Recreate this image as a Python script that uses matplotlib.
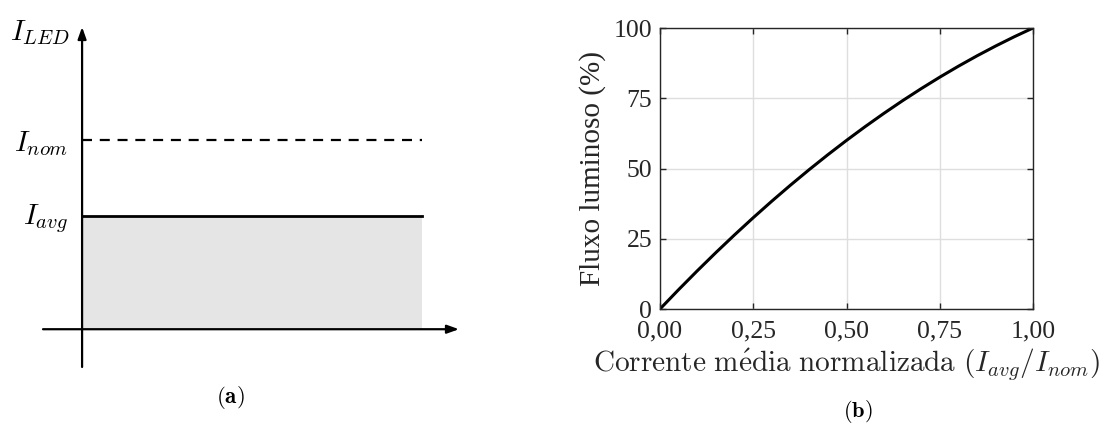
import matplotlib
matplotlib.use("Agg")
import matplotlib.pyplot as plt

plt.rcParams['mathtext.fontset'] = 'cm'

# ---- data ----
# panel (a): schematic levels (normalized to I_nom)
i_nom = 1.0
i_avg = 0.6
t_end = 1.0

# panel (b): luminous flux vs normalized current
corrente = [0.00, 0.05, 0.10, 0.15, 0.20, 0.25, 0.30, 0.35, 0.40, 0.45, 0.50,
            0.55, 0.60, 0.65, 0.70, 0.75, 0.80, 0.85, 0.90, 0.95, 1.00]
fluxo = [0.0, 6.9, 13.6, 20.1, 26.4, 32.5, 38.4, 44.1, 49.6, 54.9, 60.0,
         64.9, 69.6, 74.1, 78.4, 82.5, 86.4, 90.1, 93.6, 96.9, 100.0]
xticks = [0.0, 0.25, 0.5, 0.75, 1.0]
xticklabels = ['0,00', '0,25', '0,50', '0,75', '1,00']
yticks = [0, 25, 50, 75, 100]

W, H = 1104, 423
fig = plt.figure(figsize=(W / 100, H / 100), dpi=100)
renderer = fig.canvas.get_renderer()

def px_axes(x0, y0, x1, y1):
    return fig.add_axes([x0 / W, 1 - y1 / H, (x1 - x0) / W, (y1 - y0) / H])

def fit(txt, target, dim='w'):
    bb = txt.get_window_extent(renderer)
    cur = bb.width if dim == 'w' else bb.height
    txt.set_fontsize(txt.get_fontsize() * target / cur)

# ---------- panel (a) ----------
axa = px_axes(43, 27, 459, 367)
axa.set_xlim(-0.115, 1.109)
axa.set_ylim(-0.2, 1.6)
axa.axis('off')

axa.fill_between([0, t_end], [0, 0], [i_avg, i_avg], color='#e5e5e5', lw=0)
axa.plot([0, t_end], [i_avg, i_avg], color='black', lw=2)
axa.plot([0, t_end], [i_nom, i_nom], color='black', lw=1.6, ls=(0, (4.5, 3.5)))
arrow = dict(arrowstyle='-|>,head_length=0.7,head_width=0.25',
             color='black', lw=1.6, shrinkA=0, shrinkB=0)
axa.annotate('', xy=(1.109, 0), xytext=(-0.115, 0), arrowprops=arrow,
             annotation_clip=False)
axa.annotate('', xy=(0, 1.6), xytext=(0, -0.2), arrowprops=arrow,
             annotation_clip=False)
axa.text(-0.035, 1.57, r'$I_{LED}$', fontsize=21, ha='right', va='center')
axa.text(-0.04, 0.985, r'$I_{nom}$', fontsize=21, ha='right', va='center')
axa.text(-0.04, 0.585, r'$I_{avg}$', fontsize=21, ha='right', va='center')

cap_a = fig.text(230 / W, 1 - 397 / H, r'$\mathbf{(a)}$', fontsize=14.5,
                 ha='center', va='center')
fit(cap_a, 29, 'w')

# ---------- panel (b) ----------
axb = px_axes(660, 28, 1033, 309)
axb.plot(corrente, fluxo, color='black', lw=2.2)
axb.set_xlim(0, 1)
axb.set_ylim(0, 100)
axb.set_xticks(xticks)
axb.set_xticklabels(xticklabels)
axb.set_yticks(yticks)
axb.grid(True, color='#dedede', lw=1)
axb.set_axisbelow(True)
for s in axb.spines.values():
    s.set_color('#262626')
    s.set_linewidth(1.0)
axb.tick_params(direction='in', top=True, right=True, length=4, width=1,
                colors='#262626', labelsize=18.5)
axb.tick_params(axis='x', pad=8.5)
axb.tick_params(axis='y', pad=5.5)
for lab in axb.get_xticklabels() + axb.get_yticklabels():
    lab.set_fontfamily('Liberation Serif')
    lab.set_color('#262626')

ylab = fig.text(593 / W, 1 - 169 / H, 'Fluxo luminoso (%)',
                fontfamily='Liberation Serif', fontsize=21, rotation=90,
                color='#262626', ha='center', va='center')
fit(ylab, 235, 'h')
xlab = fig.text(846.5 / W, 1 - 371 / H,
                r'$\mathrm{Corrente\ m\acute{e}dia\ normalizada\ }(I_{avg}/I_{nom})$',
                fontsize=20, color='#262626', ha='center', va='baseline')
fit(xlab, 507, 'w')

cap_b = fig.text(858 / W, 1 - 398 / H, r'$\mathbf{(b)}$', fontsize=14.5,
                 ha='center', va='top')
fit(cap_b, 30, 'w')

fig.savefig('out.png', dpi=100, facecolor='white')
